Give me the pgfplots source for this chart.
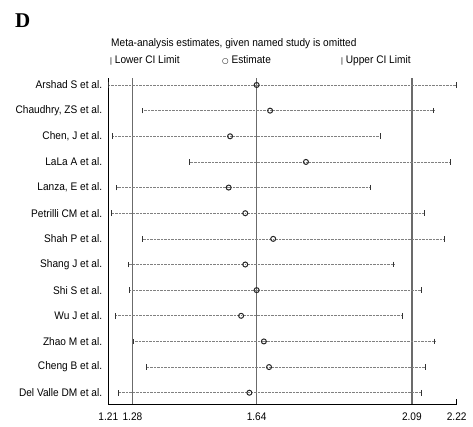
\documentclass[border=0pt]{standalone}
\usepackage{fontspec}
\setmainfont{Liberation Sans}[FakeStretch=0.92]
\newfontfamily\serifbold{Liberation Serif}
\newfontfamily\symfont{DejaVu Sans}
\usepackage{pgfplots}
\pgfplotsset{compat=1.18}
\usepackage{pgfplotstable}

\pgfplotstableread{
row lo est hi
1 1.210 1.640 2.220
2 1.309 1.679 2.154
3 1.222 1.563 2.000
4 1.446 1.783 2.203
5 1.234 1.559 1.971
6 1.218 1.607 2.126
7 1.309 1.688 2.184
8 1.269 1.607 2.038
9 1.272 1.640 2.118
10 1.232 1.595 2.064
11 1.282 1.661 2.157
12 1.321 1.676 2.130
13 1.239 1.619 2.118
}\data

\begin{document}
\begin{tikzpicture}
\path[use as bounding box] (0pt,0pt) rectangle (473pt,-427pt);
\node[anchor=base west, inner sep=0] at (15pt,-27.7pt) {\fontsize{21}{21}\selectfont\serifbold\bfseries D};
\node[anchor=base west, inner sep=0] at (111pt,-47pt) {\fontsize{11}{13}\selectfont Meta-analysis estimates, given named study is omitted};
\node[anchor=base west, inner sep=0] at (110pt,-64pt) {\fontsize{11}{13}\selectfont{\fontsize{8}{8}\selectfont|} Lower CI Limit};
\node[anchor=base west, inner sep=0] at (222pt,-64pt) {\fontsize{11}{13}\selectfont{\symfont\fontsize{7.5}{8}\selectfont ○} Estimate};
\node[anchor=base west, inner sep=0] at (341pt,-64pt) {\fontsize{11}{13}\selectfont{\fontsize{8}{8}\selectfont|} Upper CI Limit};
\begin{axis}[
  at={(108.3pt,-404pt)}, anchor=south west,
  scale only axis, width=348.4pt, height=326pt,
  xmin=1.21, xmax=2.22, ymin=0.727, ymax=13.44, y dir=reverse,
  axis x line*=bottom, axis y line*=left,
  axis line style={black, line width=0.9pt},
  xtick={1.21,1.28,1.64,2.09,2.22},
  xticklabels={1.21,1.28,1.64,2.09,2.22},
  tick align=inside, major tick length=5pt,
  xtick style={black, line width=0.9pt},
  ytick={1,...,13},
  yticklabels={Arshad S et al.,{Chaudhry, ZS et al.},{Chen, J et al.},LaLa A et al.,{Lanza, E et al.},Petrilli CM et al.,Shah P et al.,Shang J et al.,Shi S et al.,Wu J et al.,Zhao M et al.,Cheng B et al.,Del Valle DM et al.},
  ytick style={draw=none},
  yticklabel style={font=\fontsize{11}{13}\selectfont, inner sep=0pt, xshift=-6pt},
  xticklabel style={font=\fontsize{11}{13}\selectfont, yshift=-5pt},
  /pgf/number format/assume math mode=true,
  clip=false,
]
\addplot[color=black!58, line width=1.3pt] coordinates {(1.28,0.727) (1.28,13.44)};
\addplot[color=black!58, line width=1.3pt] coordinates {(1.64,0.727) (1.64,13.44)};
\addplot[color=black!58, line width=1.3pt] coordinates {(2.09,0.727) (2.09,13.44)};
\addplot[only marks, mark=o, mark size=2.5pt, mark options={black!85, fill=white, line width=1pt},
  error bars/.cd, x dir=both, x explicit,
  error mark=|,
  error bar style={black!50, densely dotted, line width=0.6pt},
  error mark options={solid, black!80, line width=1pt, mark size=2.8pt}]
  table[x=est, y=row,
    x error plus expr=\thisrow{hi}-\thisrow{est},
    x error minus expr=\thisrow{est}-\thisrow{lo}] {\data};
\end{axis}
\end{tikzpicture}
\end{document}
